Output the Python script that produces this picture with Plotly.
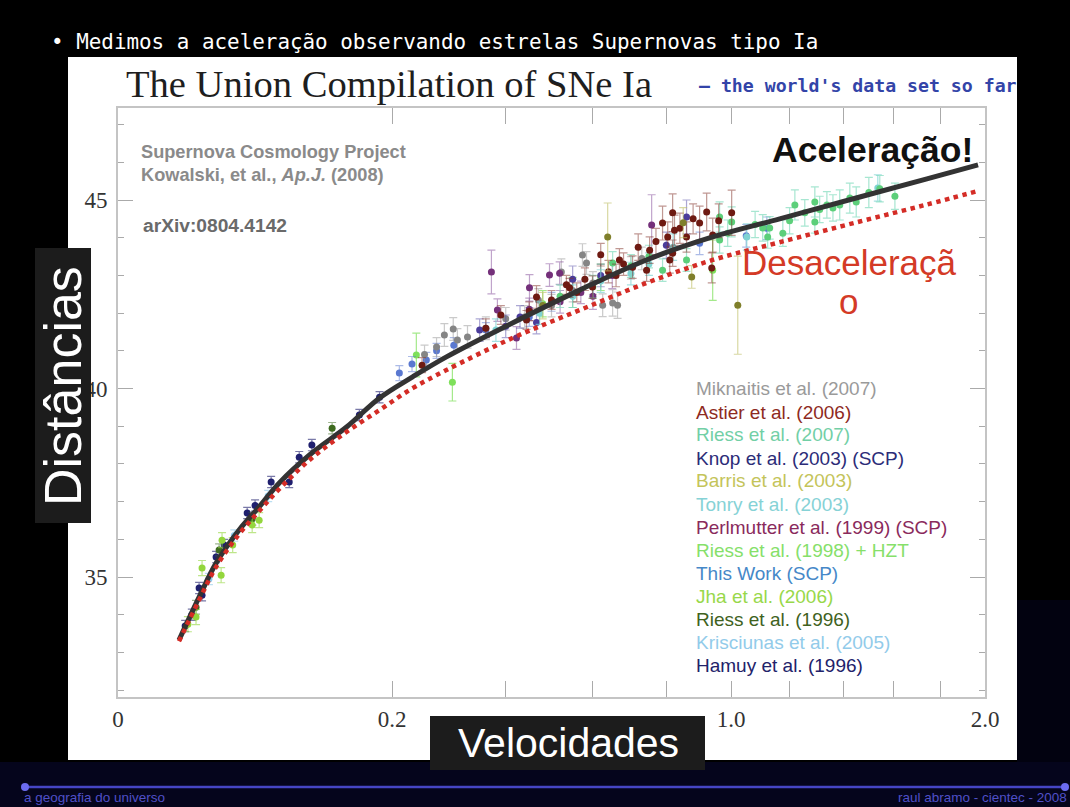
import numpy as np
import plotly.graph_objects as go

W, H = 1070, 807
def px(x): return x / W
def py(y): return 1 - y / H

# ---- model curves (redshift z, distance modulus mu)
curve_z = [0.0099, 0.0175, 0.0256, 0.039, 0.053, 0.069, 0.100, 0.139, 0.182, 0.231,
           0.287, 0.414, 0.567, 0.743, 0.941, 1.165, 1.464, 1.741, 1.968]
accel_mu = [33.33, 34.47, 35.37, 36.25, 36.86, 37.49, 38.29, 38.98, 39.75, 40.31,
            40.84, 41.74, 42.61, 43.41, 44.02, 44.50, 45.08, 45.56, 45.93]
decel_mu = [33.30, 34.39, 35.27, 36.14, 36.75, 37.33, 38.16, 38.85, 39.43, 40.01,
            40.49, 41.34, 42.08, 42.80, 43.41, 43.88, 44.43, 44.88, 45.24]

# ---- supernova samples
hamuy_z = [0.0145, 0.0175, 0.0188, 0.0256, 0.0444, 0.0624, 0.078, 0.0874, 0.100, 0.155, 0.182,
           0.012, 0.030, 0.050]
hamuy_mu = [34.00, 34.71, 34.52, 35.53, 36.70, 37.52, 37.52, 38.18, 38.50, 39.30, 39.77,
            33.70, 35.85, 36.90]
hamuy_err = [0.15, 0.15, 0.15, 0.15, 0.15, 0.15, 0.15, 0.15, 0.15, 0.15, 0.15, 0.15, 0.15, 0.15]

riess96_z = [0.0162, 0.0272, 0.122, 0.048]
riess96_mu = [34.20, 35.72, 38.95, 36.55]
riess96_err = [0.18, 0.16, 0.15, 0.17]

jha_z = [0.0162, 0.0188, 0.0283, 0.0288, 0.0479, 0.053, 0.013, 0.035]
jha_mu = [33.94, 35.24, 35.05, 35.98, 36.38, 36.51, 33.75, 35.85]
jha_err = [0.2, 0.2, 0.2, 0.2, 0.2, 0.2, 0.2, 0.2]

kris_z = [0.022, 0.036, 0.060]
kris_mu = [34.95, 36.10, 37.15]
kris_err = [0.15, 0.15, 0.15]

riess98_z = [0.2368, 0.2975, 0.941, 0.48, 0.55, 0.62]
riess98_mu = [40.89, 40.17, 43.14, 42.25, 42.55, 42.95]
riess98_err = [0.58, 0.5, 0.8, 0.35, 0.4, 0.35]

thiswork_z = [0.2106, 0.253, 0.30, 0.36, 0.90, 1.05, 1.12, 0.45, 0.50, 0.23, 0.27]
thiswork_mu = [40.41, 40.76, 41.15, 41.55, 43.85, 44.05, 44.25, 41.90, 42.30, 40.65, 41.00]
thiswork_err = [0.2, 0.2, 0.2, 0.2, 0.3, 0.3, 0.3, 0.25, 0.25, 0.2, 0.2]

perl_z = [0.371, 0.383, 0.4225, 0.4505, 0.4954, 0.519, 0.7577, 0.60, 0.45, 0.52, 0.57, 0.65]
perl_mu = [43.09, 42.08, 41.34, 42.67, 43.01, 43.06, 44.34, 42.45, 42.10, 42.30, 42.55, 43.00]
perl_err = [0.58, 0.3, 0.3, 0.35, 0.3, 0.3, 0.8, 0.35, 0.3, 0.3, 0.3, 0.35]

knop_z = [0.348, 0.466, 0.55, 0.62, 0.80, 0.86, 0.40, 0.43]
knop_mu = [41.55, 41.75, 42.90, 43.00, 43.80, 44.55, 41.65, 41.90]
knop_err = [0.3, 0.3, 0.35, 0.3, 0.35, 0.45, 0.3, 0.3]

mik_z = [0.2834, 0.299, 0.325, 0.3065, 0.523, 0.574, 0.584, 0.651, 0.664, 0.625, 0.44, 0.50, 0.70,
         0.36, 0.40, 0.47, 0.55, 0.60, 0.73, 0.25, 0.27]
mik_mu = [41.42, 41.58, 41.37, 41.29, 43.09, 43.54, 43.33, 42.27, 42.21, 42.21, 41.90, 42.20, 43.20,
          41.60, 41.85, 42.35, 42.60, 42.80, 43.45, 40.90, 41.10]
mik_err = [0.3, 0.3, 0.3, 0.3, 0.35, 0.3, 0.3, 0.35, 0.35, 0.3, 0.3, 0.3, 0.3,
           0.3, 0.3, 0.3, 0.3, 0.3, 0.3, 0.25, 0.25]

astier_z = [0.669, 0.7046, 0.752, 0.789, 0.804, 0.8185, 0.860, 0.900, 0.922, 0.941, 1.002,
            0.7435, 0.599, 0.5425, 0.535, 0.466, 0.246, 0.444, 0.824, 0.81, 0.938, 0.39,
            0.62, 0.66, 0.8185, 0.50, 0.56, 0.64, 0.68, 0.72, 0.77, 0.84, 0.88, 0.96,
            0.58, 0.45, 0.36]
astier_mu = [43.41, 43.22, 43.67, 44.39, 44.02, 44.66, 44.02, 44.39, 44.68, 44.07, 44.66,
             43.14, 42.69, 42.67, 42.75, 42.43, 40.62, 41.82, 44.20, 43.41, 43.20, 41.95,
             43.55, 43.00, 43.59, 42.35, 42.55, 43.10, 43.30, 43.75, 43.90, 44.25, 44.50, 44.45,
             42.90, 42.05, 41.60]
astier_err = [0.3, 0.3, 0.35, 0.45, 0.4, 0.5, 0.4, 0.45, 0.5, 0.45, 0.6,
              0.3, 0.3, 0.25, 0.25, 0.3, 0.2, 0.25, 0.4, 0.35, 0.4, 0.25,
              0.3, 0.3, 0.35, 0.25, 0.25, 0.3, 0.3, 0.35, 0.35, 0.4, 0.4, 0.45,
              0.3, 0.25, 0.25]

riess07_z = [0.963, 1.002, 1.130, 1.123, 1.176, 1.219, 1.255, 1.292, 1.292, 1.337, 1.36,
             1.386, 0.963, 0.989, 0.86, 1.106, 0.789, 0.651, 1.425, 1.544, 1.606,
             0.52, 0.60, 0.70, 0.75, 1.08, 1.20, 1.31, 1.45, 1.50]
riess07_mu = [44.55, 44.42, 44.26, 44.02, 44.12, 44.87, 44.66, 44.95, 44.42, 44.87, 44.79,
              44.87, 43.94, 44.12, 43.41, 44.26, 43.14, 43.33, 45.05, 45.30, 45.10,
              42.45, 42.70, 43.25, 43.50, 44.35, 44.45, 44.75, 44.95, 45.20]
riess07_err = [0.4, 0.4, 0.3, 0.3, 0.35, 0.4, 0.35, 0.4, 0.3, 0.35, 0.35,
               0.4, 0.35, 0.35, 0.3, 0.35, 0.3, 0.3, 0.4, 0.35, 0.35,
               0.3, 0.3, 0.3, 0.3, 0.35, 0.35, 0.35, 0.4, 0.4]

tonry_z = [1.536, 1.052, 0.473, 0.55, 0.70, 0.38, 0.75, 0.82, 0.62]
tonry_mu = [45.32, 44.02, 42.00, 42.45, 43.05, 41.55, 43.30, 43.75, 42.85]
tonry_err = [0.35, 0.35, 0.3, 0.3, 0.3, 0.3, 0.3, 0.35, 0.3]

barris_z = [0.638, 1.022, 0.8757, 0.85, 0.48]
barris_mu = [44.02, 42.21, 42.96, 44.40, 42.20]
barris_err = [0.9, 1.3, 0.3, 0.4, 0.35]

# ---- legend text (names and colours)
legend_names = ["Miknaitis et al. (2007)", "Astier et al. (2006)", "Riess et al. (2007)",
                "Knop et al. (2003) (SCP)", "Barris et al. (2003)", "Tonry et al. (2003)",
                "Perlmutter et al. (1999) (SCP)", "Riess et al. (1998) + HZT", "This Work (SCP)",
                "Jha et al. (2006)", "Riess et al. (1996)", "Krisciunas et al. (2005)",
                "Hamuy et al. (1996)"]
legend_colors = ["#9a9a9a", "#8e2a22", "#72cfa6", "#2c2c78", "#c4c45a", "#86d2d6",
                 "#8a2a5c", "#86e06a", "#4688c8", "#98d84a", "#40621e", "#92cbea", "#22226a"]

x_tick_z = [0, 0.2, 0.4, 0.6, 0.8, 1.0, 1.2, 1.4, 1.6, 1.8, 2.0]
x_tick_text = ["0", "0.2", "", "", "", "1.0", "", "", "", "", "2.0"]
y_tick_vals = [35, 40, 45]
y_minor_vals = [32, 33, 34, 36, 37, 38, 39, 41, 42, 43, 44, 46, 47]

surveys = [
    (hamuy_z, hamuy_mu, hamuy_err, "#1f1f6e", "rgba(31,31,110,0.6)"),
    (riess96_z, riess96_mu, riess96_err, "#3e6b1f", "rgba(62,107,31,0.5)"),
    (jha_z, jha_mu, jha_err, "#93d63c", "rgba(147,214,60,0.6)"),
    (kris_z, kris_mu, kris_err, "#8ecaea", "rgba(142,202,234,0.6)"),
    (riess98_z, riess98_mu, riess98_err, "#7ee05a", "rgba(126,224,90,0.7)"),
    (thiswork_z, thiswork_mu, thiswork_err, "#5a78d0", "rgba(90,120,208,0.5)"),
    (mik_z, mik_mu, mik_err, "#858585", "rgba(150,150,150,0.5)"),
    (perl_z, perl_mu, perl_err, "#74307a", "rgba(140,90,160,0.55)"),
    (knop_z, knop_mu, knop_err, "#4b3c9b", "rgba(90,80,170,0.5)"),
    (tonry_z, tonry_mu, tonry_err, "#7fd3d3", "rgba(127,211,211,0.7)"),
    (riess07_z, riess07_mu, riess07_err, "#5ccf7a", "rgba(130,220,190,0.7)"),
    (astier_z, astier_mu, astier_err, "#6e1a12", "rgba(130,50,40,0.5)"),
    (barris_z, barris_mu, barris_err, "#7f7f2a", "rgba(190,190,100,0.6)"),
]

fig = go.Figure()
for z, mu, err, col, ecol in surveys:
    fig.add_trace(go.Scatter(
        x=np.sqrt(z), y=mu, mode="markers",
        marker=dict(color=col, size=7),
        error_y=dict(type="data", array=err, color=ecol, thickness=1.2, width=4),
        showlegend=False, hoverinfo="skip"))

fig.add_trace(go.Scatter(x=np.sqrt(curve_z), y=accel_mu, mode="lines",
                         line=dict(color="#333333", width=5, shape="spline"),
                         showlegend=False, hoverinfo="skip"))
fig.add_trace(go.Scatter(x=np.sqrt(curve_z), y=decel_mu, mode="lines",
                         line=dict(color="#d42c26", width=4.5, dash="dot", shape="spline"),
                         showlegend=False, hoverinfo="skip"))

fig.update_xaxes(domain=[px(118), px(985)], range=[0, np.sqrt(2.0)], automargin=False,
                 tickmode="array", tickvals=np.sqrt(x_tick_z), ticktext=x_tick_text,
                 ticks="inside", ticklen=16, tickwidth=1.2, tickcolor="#aaaaaa",
                 showline=True, linecolor="#c4c4c4", linewidth=2, mirror="ticks",
                 showgrid=False, zeroline=False, ticklabelstandoff=0,
                 tickfont=dict(family="Liberation Serif", size=23, color="#333333"))
fig.update_yaxes(domain=[py(697), py(108)], range=[31.82, 47.44], automargin=False,
                 tickmode="array", tickvals=y_tick_vals,
                 ticks="inside", ticklen=15, tickwidth=1.2, tickcolor="#aaaaaa",
                 minor=dict(tickmode="array", tickvals=y_minor_vals, ticks="inside",
                            ticklen=6, tickcolor="#aaaaaa", tickwidth=1.2),
                 showline=True, linecolor="#c4c4c4", linewidth=2, mirror="ticks",
                 showgrid=False, zeroline=False, ticklabelstandoff=4,
                 tickfont=dict(family="Liberation Serif", size=23, color="#333333"))

shapes = [
    dict(type="rect", xref="paper", yref="paper", x0=0, x1=1, y0=py(807), y1=py(762),
         fillcolor="#05051c", line_width=0, layer="below"),
    dict(type="rect", xref="paper", yref="paper", x0=px(1017), x1=1, y0=py(762), y1=py(600),
         fillcolor="#020210", line_width=0, layer="below"),
    dict(type="rect", xref="paper", yref="paper", x0=px(68), x1=px(1017), y0=py(760), y1=py(57),
         fillcolor="white", line_width=0, layer="below"),
    dict(type="rect", xref="paper", yref="paper", x0=px(35), x1=px(91), y0=py(523), y1=py(248),
         fillcolor="#1c1c1c", line_width=0, layer="above"),
    dict(type="rect", xref="paper", yref="paper", x0=px(430), x1=px(705), y0=py(770), y1=py(716),
         fillcolor="#1c1c1c", line_width=0, layer="above"),
    dict(type="line", xref="paper", yref="paper", x0=px(25), x1=px(1065), y0=py(787), y1=py(787),
         line=dict(color="#4646c4", width=2.5), layer="above"),
    dict(type="circle", xref="paper", yref="paper", x0=px(21), x1=px(29), y0=py(791), y1=py(783),
         fillcolor="#6c6cf0", line_width=0, layer="above"),
    dict(type="circle", xref="paper", yref="paper", x0=px(1061), x1=px(1069), y0=py(791), y1=py(783),
         fillcolor="#6c6cf0", line_width=0, layer="above"),
]

def ann(text, x, y, size, color, family="Liberation Sans", xanchor="left", angle=0):
    return dict(text=text, x=px(x), y=py(y), xref="paper", yref="paper", showarrow=False,
                xanchor=xanchor, yanchor="middle", textangle=angle,
                font=dict(family=family, size=size, color=color))

annotations = [
    ann("• Medimos a aceleração observando estrelas Supernovas tipo Ia", 49, 42, 20.9, "white",
        family="DejaVu Sans Mono"),
    ann("The Union Compilation of SNe Ia", 124, 84, 38.6, "#1e1e1e", family="Liberation Serif"),
    ann("<b>— the world's data set so far</b>", 697, 85, 18.2, "#3344a8", family="DejaVu Sans Mono"),
    ann("<b>Supernova Cosmology Project</b>", 139, 152, 18.2, "#8a8a8a"),
    ann("<b>Kowalski, et al., <i>Ap.J.</i> (2008)</b>", 139, 175, 18.2, "#8a8a8a"),
    ann("<b>arXiv:0804.4142</b>", 141, 225, 19.2, "#6a6a6a"),
    ann("<b>Aceleração!</b>", 975, 150, 35.5, "#111111", xanchor="right"),
    ann("Desaceleraçã", 740, 262, 35, "#d43a26"),
    ann("o", 848, 301, 35, "#d43a26", xanchor="center"),
    ann("Distâncias", 63, 386, 52, "white", xanchor="center", angle=-90),
    ann("Velocidades", 568, 743, 41, "white", xanchor="center"),
    ann("a geografia do universo", 22, 797, 13.5, "#5050c8"),
    ann("raul abramo - cientec - 2008", 1069, 797, 13.5, "#5050c8", xanchor="right"),
]
for i, (nm, col) in enumerate(zip(legend_names, legend_colors)):
    annotations.append(ann(nm, 694, 389 + i * 23, 19, col))

fig.update_layout(width=W, height=H, margin=dict(l=0, r=0, t=0, b=0, pad=0, autoexpand=False),
                  autosize=False, template="none",
                  paper_bgcolor="#000000", plot_bgcolor="white",
                  shapes=shapes, annotations=annotations, showlegend=False)

post = ("var s=document.documentElement.style;s.margin='0';s.padding='0';s.overflow='hidden';"
        "s.background='#000';"
        "var b=document.body.style;b.margin='0';b.padding='0';b.overflow='hidden';b.background='#000';"
        "var d=document.getElementById('{plot_id}');d.style.position='absolute';"
        "d.style.left='0px';d.style.top='0px';")
fig.write_html("out.html", config={"responsive": False, "displayModeBar": False},
               post_script=post)
